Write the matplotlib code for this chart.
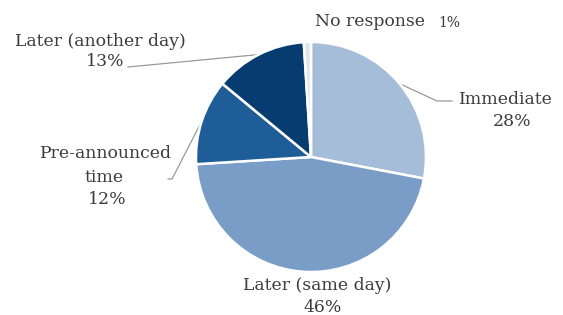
import numpy as np
import matplotlib
matplotlib.use("Agg")
import matplotlib.pyplot as plt

labels = ["Immediate", "Later (same day)", "Pre-announced\ntime", "Later (another day)", "No response"]
values = [28, 46, 12, 13, 1]
colors = ["#a6bdda", "#7a9dc8", "#1f5d98", "#073c71", "#dfe6ef"]

W, H = 563, 315
fig = plt.figure(figsize=(W / 100, H / 100), dpi=100)
ax = fig.add_axes([0, 0, 1, 1])

cx, cy, R = 311, H - 157, 115
wedges, _ = ax.pie(values, colors=colors, startangle=90, counterclock=False,
                   center=(cx, cy), radius=R,
                   wedgeprops=dict(edgecolor="white", linewidth=1.8))
ax.set_xlim(0, W)
ax.set_ylim(0, H)
ax.set_aspect("equal")
ax.axis("off")

tc = "#3c3c3c"
fs = 12.4
font = dict(family="DejaVu Serif", color=tc, fontsize=fs)

def mid_pt(w, r=1.0):
    a = np.deg2rad((w.theta1 + w.theta2) / 2)
    return cx + R * r * np.cos(a), cy + R * r * np.sin(a)

lc = "#9a9a9a"
# Immediate
x0, y0 = mid_pt(wedges[0], 1.0)
ax.plot([x0, 437, 452], [y0, H - 101, H - 101], color=lc, lw=0.9, zorder=0)
ax.text(505, H - 100, labels[0], ha="center", va="center", **font)
ax.text(512, H - 122, f"{values[0]}%", ha="center", va="center", **font)
# Later (same day)
ax.text(317, H - 285, labels[1], ha="center", va="center", **font)
ax.text(323, H - 307, f"{values[1]}%", ha="center", va="center", **font)
# Pre-announced
x0, y0 = mid_pt(wedges[2], 1.0)
ax.plot([x0, 172, 168], [y0, H - 179, H - 179], color=lc, lw=0.9, zorder=0)
line1, line2 = labels[2].split("\n")
ax.text(105, H - 153, line1, ha="center", va="center", **font)
ax.text(104, H - 177, line2, ha="center", va="center", **font)
ax.text(107, H - 200, f"{values[2]}%", ha="center", va="center", **font)
# Later (another day)
x0, y0 = mid_pt(wedges[3], 1.0)
ax.plot([x0, 128], [y0, H - 67], color=lc, lw=0.9, zorder=0)
ax.text(100, H - 42, labels[3], ha="center", va="center", **font)
ax.text(105, H - 61, f"{values[3]}%", ha="center", va="center", **font)
# No response
ax.text(370, H - 22, labels[4], ha="center", va="center", **font)
ax.text(449, H - 23, f"{values[4]}%", ha="center", va="center",
        family="DejaVu Serif", color=tc, fontsize=10)

fig.savefig("out.png", dpi=100, facecolor="white")
